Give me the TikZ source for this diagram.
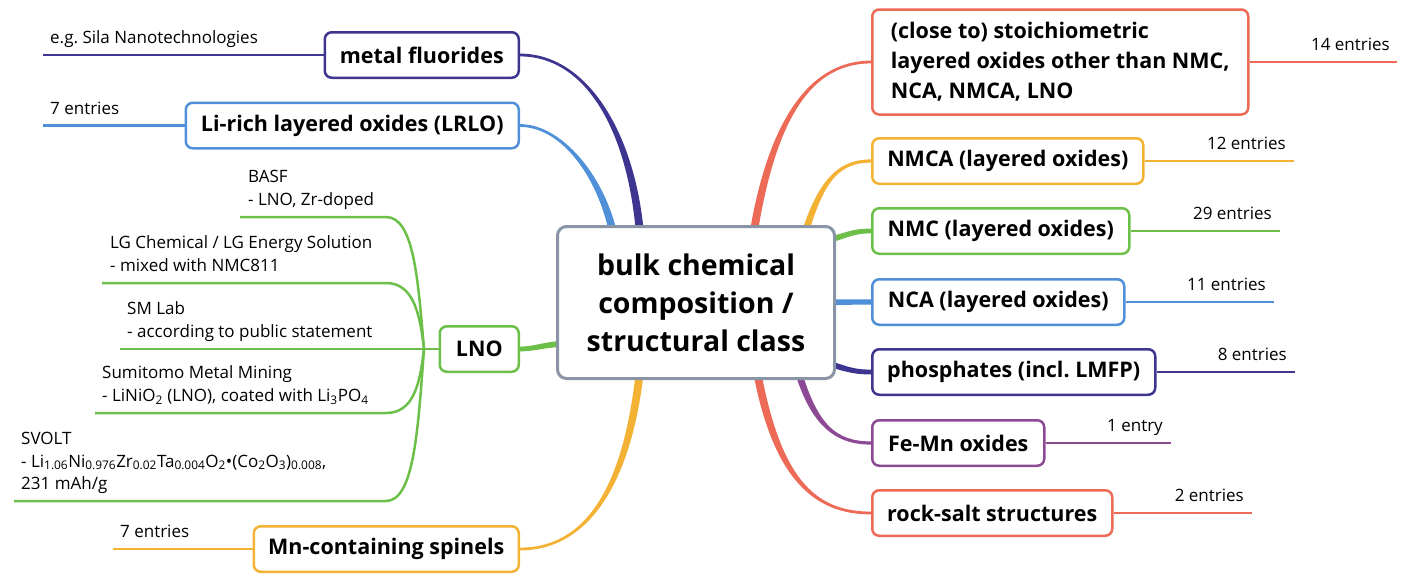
\documentclass[tikz,border=0pt]{standalone}
\usepackage{fontspec}
\setmainfont{Open Sans}
\usetikzlibrary{calc,backgrounds}
\frenchspacing
\definecolor{cindigo}{HTML}{3D3590}
\definecolor{cblue}{HTML}{5090D8}
\definecolor{cgreen}{HTML}{6CC04A}
\definecolor{corange}{HTML}{F3B234}
\definecolor{ccoral}{HTML}{EC6A56}
\definecolor{cpurple}{HTML}{8C4A94}
\definecolor{cgray}{HTML}{8995A7}
\tikzset{
  box/.style={draw=#1, line width=2.5pt, rounded corners=7pt, fill=white,
    font=\fontsize{21.5}{30}\selectfont\bfseries, inner xsep=12pt, inner ysep=0pt,
    minimum height=45.5pt, align=left},
  note/.style={font=\fontsize{17}{23}\selectfont, inner sep=0pt, align=left, text depth=4.5pt},
  leaf/.style={draw=#1, line width=2.5pt},
}
% #1 colour, #2 half width at centre, #3 half width at box, #4..#7 curve points
\newcommand\bbranch[7]{%
  \fill[#1] ($(#4)!#2pt!90:(#5)$) .. controls ($(#5)!#2pt!-90:(#4)$) and ($(#6)!#3pt!90:(#7)$) ..
    ($(#7)!#3pt!-90:(#6)$) -- ($(#7)!#3pt!90:(#6)$) .. controls ($(#6)!#3pt!-90:(#7)$) and ($(#5)!#2pt!90:(#4)$) ..
    ($(#4)!#2pt!-90:(#5)$) -- cycle;}
\begin{document}
\begin{tikzpicture}[x=1pt,y=-1pt]
\useasboundingbox (0,0) rectangle (1407,582);
% central node
\node[draw=cgray, line width=3pt, rounded corners=9pt, fill=white, minimum width=277pt,
  minimum height=152pt, font=\fontsize{28.5}{38}\selectfont\bfseries, align=center]
  (c) at (696,302.5) {bulk chemical\\composition /\\structural class};
% left boxes
\node[box=cindigo, anchor=east, minimum width=194pt] (mf) at (520,55) {metal fluorides};
\node[box=cblue, anchor=east, minimum width=333pt] (lrlo) at (520,125.5) {Li-rich layered oxides (LRLO)};
\node[box=cgreen, anchor=east, minimum width=79pt] (lno) at (520,349) {LNO};
\node[box=corange, anchor=east, minimum width=265pt] (mn) at (520,549) {Mn-containing spinels};
% right boxes
\node[box=ccoral, anchor=west, minimum width=376pt, minimum height=105pt] (close) at (871,62)
  {(close to) stoichiometric\\layered oxides other than NMC,\\NCA, NMCA, LNO};
\node[box=corange, anchor=west, minimum width=271pt] (nmca) at (871,161) {NMCA (layered oxides)};
\node[box=cgreen, anchor=west, minimum width=257pt] (nmc) at (871,231) {NMC (layered oxides)};
\node[box=cblue, anchor=west, minimum width=252pt] (nca) at (871,302) {NCA (layered oxides)};
\node[box=cindigo, anchor=west, minimum width=283pt] (phos) at (871,372) {phosphates (incl. LMFP)};
\node[box=cpurple, anchor=west, minimum width=172pt] (femn) at (871,443) {Fe-Mn oxides};
\node[box=ccoral, anchor=west, minimum width=240pt] (rock) at (871,513) {rock-salt structures};
% attachment points on the central node
\coordinate (cmf) at ($(c.north)+(-55,25)$);
\coordinate (clrlo) at ($(c.north)+(-80,25)$);
\coordinate (clno) at ($(c.west)+(13,41)$);
\coordinate (cmn) at ($(c.south)+(-55,-20)$);
\coordinate (cclose) at ($(c.north)+(55,25)$);
\coordinate (cnmca) at ($(c.north)+(104,25)$);
\coordinate (cnmc) at ($(c.east)+(-18,-60)$);
\coordinate (cnca) at ($(c.east)+(-18,0)$);
\coordinate (cphos) at ($(c.east)+(-18,58)$);
\coordinate (cfemn) at ($(c.south)+(99,-20)$);
\coordinate (crock) at ($(c.south)+(59,-20)$);
\begin{scope}[on background layer]
\bbranch{cindigo}{4}{1.4}{cmf}{636,140}{590,55}{mf.east}
\bbranch{cblue}{4}{1.4}{clrlo}{608,185}{565,125.5}{lrlo.east}
\bbranch{cgreen}{3}{2.4}{clno}{545,344}{535,349}{lno.east}
\bbranch{corange}{4}{1.4}{cmn}{630,480}{590,549}{mn.east}
\bbranch{ccoral}{4}{1.4}{cclose}{768,130}{805,62}{close.west}
\bbranch{corange}{3.5}{1.6}{cnmca}{818,185}{835,161}{nmca.west}
\bbranch{cgreen}{3}{2.4}{cnmc}{848,236}{850,231}{nmc.west}
\bbranch{cblue}{3}{2.6}{cnca}{840,302}{850,302}{nca.west}
\bbranch{cindigo}{3}{2.4}{cphos}{845,368}{850,372}{phos.west}
\bbranch{cpurple}{3.5}{1.6}{cfemn}{812,425}{835,443}{femn.west}
\bbranch{ccoral}{4}{1.4}{crock}{775,480}{815,513}{rock.west}
\end{scope}
% left leaves
\draw[leaf=cindigo] (mf.west) -- (mf.west -| 43,0) coordinate (mfend);
\node[note, anchor=south west] (mfl) at ($(mfend)+(7,-6.5)$) {e.g. Sila Nanotechnologies};
\draw[leaf=cblue] (lrlo.west) -- (lrlo.west -| 43,0) coordinate (lrloend);
\node[note, anchor=south west] (lrlol) at ($(lrloend)+(7,-6.5)$) {7 entries};
\draw[leaf=corange] (mn.west) -- (mn.west -| 113,0) coordinate (mnend);
\node[note, anchor=south west] (mnl) at ($(mnend)+(7,-6.5)$) {7 entries};
% LNO sub-branches
\coordinate (J) at (424,349);
\draw[leaf=cgreen] (lno.west) -- (J);
\draw[leaf=cgreen] (J) .. controls (418,280) and (414,217) .. (386,217) -- (240,217) coordinate (basfend);
\draw[leaf=cgreen] (J) .. controls (420,315) and (414,283) .. (386,283) -- (102,283) coordinate (lgend);
\draw[leaf=cgreen] (J) -- (120,349) coordinate (smend);
\draw[leaf=cgreen] (J) .. controls (420,383) and (414,413) .. (386,413) -- (95,413) coordinate (sumend);
\draw[leaf=cgreen] (J) .. controls (418,430) and (414,501) .. (386,501) -- (14,501) coordinate (svend);
\node[note, anchor=south west] (basf) at ($(basfend)+(8,-6.5)$) {BASF\\- LNO, Zr-doped};
\node[note, anchor=south west] (lg) at ($(lgend)+(8,-6.5)$) {LG Chemical / LG Energy Solution\\- mixed with NMC811};
\node[note, anchor=south west] (sm) at ($(smend)+(7,-6.5)$) {SM Lab\\- according to public statement};
\node[note, anchor=south west] (sum) at ($(sumend)+(7,-6.5)$) {Sumitomo Metal Mining\\- LiNiO\textsubscript{2} (LNO), coated with Li\textsubscript{3}PO\textsubscript{4}};
\node[note, anchor=south west, font=\fontsize{17}{22.5}\selectfont] (sv) at ($(svend)+(7,-6.5)$)
  {SVOLT\\- Li\textsubscript{1.06}Ni\textsubscript{0.976}Zr\textsubscript{0.02}Ta\textsubscript{0.004}O\textsubscript{2}•(Co\textsubscript{2}O\textsubscript{3})\textsubscript{0.008},\\231 mAh/g};
% right leaves
\draw[leaf=ccoral] (close.east) -- (close.east -| 1397,0) coordinate (closeend);
\node[note, anchor=south east] (closel) at ($(closeend)+(-7,-6.5)$) {14 entries};
\draw[leaf=corange] (nmca.east) -- (nmca.east -| 1294,0) coordinate (nmcaend);
\node[note, anchor=south east] (nmcal) at ($(nmcaend)+(-8,-6.5)$) {12 entries};
\draw[leaf=cgreen] (nmc.east) -- (nmc.east -| 1280,0) coordinate (nmcend);
\node[note, anchor=south east] (nmcl) at ($(nmcend)+(-8,-6.5)$) {29 entries};
\draw[leaf=cblue] (nca.east) -- (nca.east -| 1274,0) coordinate (ncaend);
\node[note, anchor=south east] (ncal) at ($(ncaend)+(-8,-6.5)$) {11 entries};
\draw[leaf=cindigo] (phos.east) -- (phos.east -| 1295,0) coordinate (phosend);
\node[note, anchor=south east] (phosl) at ($(phosend)+(-8,-6.5)$) {8 entries};
\draw[leaf=cpurple] (femn.east) -- (femn.east -| 1171,0) coordinate (femnend);
\node[note, anchor=south east] (femnl) at ($(femnend)+(-8,-6.5)$) {1 entry};
\draw[leaf=ccoral] (rock.east) -- (rock.east -| 1252,0) coordinate (rockend);
\node[note, anchor=south east] (rockl) at ($(rockend)+(-8,-6.5)$) {2 entries};
\end{tikzpicture}
\end{document}
